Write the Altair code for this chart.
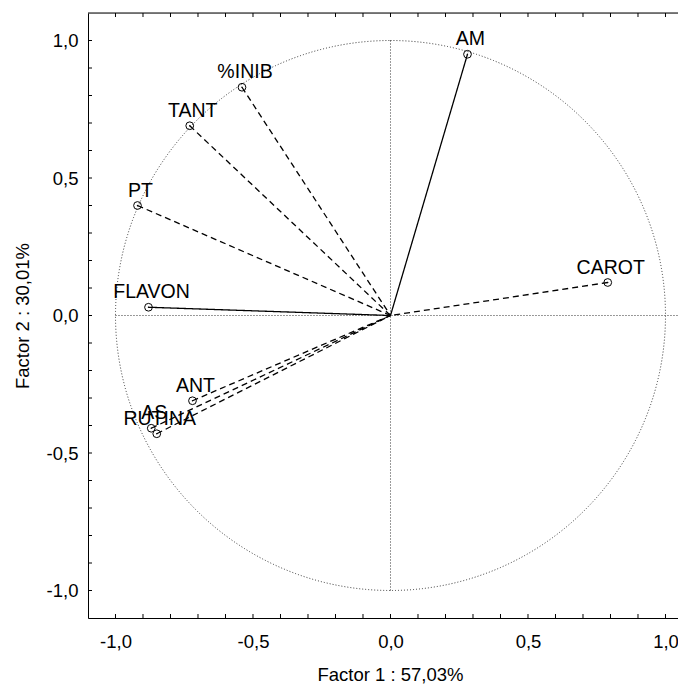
import altair as alt
import pandas as pd

# Variables (factor loadings)
names = ["AM", "CAROT", "%INIB", "TANT", "PT", "FLAVON", "ANT", "AS", "RUTINA"]
factor1 = [0.28, 0.79, -0.54, -0.73, -0.92, -0.88, -0.72, -0.87, -0.85]
factor2 = [0.95, 0.12, 0.83, 0.69, 0.40, 0.03, -0.31, -0.41, -0.43]
line_style = ["solid", "dashed", "dashed", "dashed", "dashed", "solid", "dashed", "dashed", "dashed"]

# Axis ticks
major_ticks = [-1.0, -0.5, 0.0, 0.5, 1.0]
minor_ticks = [-1.0, -0.9, -0.8, -0.7, -0.6, -0.5, -0.4, -0.3, -0.2, -0.1, 0.0,
               0.1, 0.2, 0.3, 0.4, 0.5, 0.6, 0.7, 0.8, 0.9, 1.0]

W, H = 590, 605
XDOM = [-1.1, 1.0455]
YDOM = [-1.1, 1.1]
FONT = "Liberation Sans"
label_expr = "(datum.value < 0 ? '-' : '') + replace(format(abs(datum.value), '.1f'), '.', ',')"

df = pd.DataFrame({"name": names, "f1": factor1, "f2": factor2, "style": line_style,
                   "x0": [0.0] * len(names), "y0": [0.0] * len(names)})
ticks_df = pd.DataFrame({"t": minor_ticks})

xscale = alt.Scale(domain=XDOM, nice=False, zero=False)
yscale = alt.Scale(domain=YDOM, nice=False, zero=False)

xaxis = alt.Axis(values=major_ticks, labelExpr=label_expr, ticks=False, grid=False,
                 domainColor="black", labelColor="black", labelFont=FONT, labelFontSize=18.5,
                 labelPadding=14, title="Factor 1 : 57,03%", titleFont=FONT, titleFontSize=18.5,
                 titleFontWeight="normal", titleColor="black", titlePadding=15, titleX=302)
yaxis = alt.Axis(values=major_ticks, labelExpr=label_expr, ticks=False, grid=False,
                 domainColor="black", labelColor="black", labelFont=FONT, labelFontSize=18.5,
                 labelPadding=10, title="Factor 2 : 30,01%", titleFont=FONT, titleFontSize=18.5,
                 titleFontWeight="normal", titleColor="black", titlePadding=14)

base = alt.Chart(df)

# unit circle
circle = alt.Chart(pd.DataFrame({"cx": [0.0], "cy": [0.0]})).mark_arc(
    filled=False, stroke="#333", strokeWidth=1, strokeDash=[1, 2],
    theta=0, theta2=6.2832, radius=275, fill=None
).encode(
    x=alt.X("cx:Q", scale=xscale, axis=xaxis),
    y=alt.Y("cy:Q", scale=yscale, axis=yaxis),
)

# reference axes inside
hline = alt.Chart(pd.DataFrame({"a": [-1.0], "b": [XDOM[1]], "c": [0.0]})).mark_rule(
    stroke="#333", strokeWidth=1, strokeDash=[1, 2]
).encode(x="a:Q", x2="b:Q", y="c:Q")
vline = alt.Chart(pd.DataFrame({"a": [-1.0], "b": [1.0], "c": [0.0]})).mark_rule(
    stroke="#333", strokeWidth=1, strokeDash=[1, 2]
).encode(y="a:Q", y2="b:Q", x="c:Q")

vectors = base.mark_rule(strokeWidth=1.3, color="black").encode(
    x="f1:Q", y="f2:Q", x2="x0:Q", y2="y0:Q",
    strokeDash=alt.StrokeDash("style:N", scale=alt.Scale(domain=["solid", "dashed"],
                                                          range=[[1, 0], [6, 4]]), legend=None),
)

points = base.mark_point(shape="circle", size=60, filled=False, color="black", strokeWidth=1,
                         opacity=1).encode(x="f1:Q", y="f2:Q")
dots = base.mark_point(shape="circle", size=2, filled=True, color="black",
                       opacity=1).encode(x="f1:Q", y="f2:Q")
labels = base.mark_text(font=FONT, fontSize=19.5, color="black", align="center",
                        baseline="alphabetic", dx=3, dy=-9).encode(
    x="f1:Q", y="f2:Q", text="name:N")

# frame: top line and inward ticks
top_line = alt.Chart(pd.DataFrame({"a": [0]})).mark_rule(color="black", strokeWidth=1).encode(
    x=alt.value(0), x2=alt.value(W), y=alt.value(0))
tick_top = alt.Chart(ticks_df).mark_rule(color="black", strokeWidth=1).encode(
    x="t:Q", y=alt.value(0), y2=alt.value(4))
tick_bottom = alt.Chart(ticks_df).mark_rule(color="black", strokeWidth=1).encode(
    x="t:Q", y=alt.value(H), y2=alt.value(H - 4))
tick_left = alt.Chart(ticks_df).mark_rule(color="black", strokeWidth=1).encode(
    y="t:Q", x=alt.value(0), x2=alt.value(4))

chart = alt.layer(
    circle, hline, vline, vectors, points, dots, labels, top_line, tick_top, tick_bottom, tick_left
).properties(
    width=W, height=H,
    autosize=alt.AutoSizeParams(type="none"),
    padding={"left": 80, "top": 5, "right": 0, "bottom": 66},
).configure_view(stroke=None).configure(background="white")

chart.save("out.html", embed_options={"renderer": "svg", "actions": False})
